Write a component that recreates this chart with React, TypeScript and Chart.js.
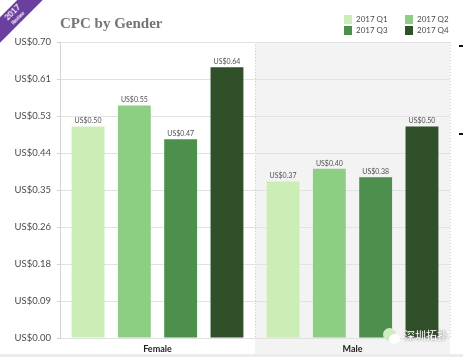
import React, { useEffect, useRef } from "react";
import { Chart, registerables } from "chart.js";

Chart.register(...registerables);

const categories = ["Female", "Male"];
const seriesNames = ["2017 Q1", "2017 Q2", "2017 Q3", "2017 Q4"];
const q1 = [0.5, 0.37];
const q2 = [0.55, 0.4];
const q3 = [0.47, 0.38];
const q4 = [0.64, 0.5];
const colors = ["#cbeeb6", "#8ccf82", "#4d8f4c", "#2f5029"];
const yTickLabels = ["US$0.00", "US$0.09", "US$0.18", "US$0.26", "US$0.35", "US$0.44", "US$0.53", "US$0.61", "US$0.70"];

const FONT = "Lato, sans-serif";

const bandPlugin = {
  id: "band",
  beforeDraw(chart: any) {
    const { ctx, chartArea, scales } = chart;
    const x = scales.x;
    const boundary = (x.getPixelForValue(0) + x.getPixelForValue(1)) / 2;
    ctx.save();
    ctx.fillStyle = "#f3f3f3";
    ctx.fillRect(boundary, chartArea.top, chartArea.right - boundary, 354 - chartArea.top);
    ctx.restore();
  },
};

const valueLabelPlugin = {
  id: "valueLabels",
  afterDatasetsDraw(chart: any) {
    const { ctx } = chart;
    ctx.save();
    ctx.font = `7px ${FONT}`;
    ctx.fillStyle = "#505050";
    ctx.textAlign = "center";
    ctx.textBaseline = "bottom";
    chart.data.datasets.forEach((ds: any, i: number) => {
      chart.getDatasetMeta(i).data.forEach((bar: any, j: number) => {
        ctx.fillText("US$" + ds.data[j].toFixed(2), bar.x, bar.y - 2);
      });
    });
    ctx.restore();
  },
};

export default function App() {
  const ref = useRef<HTMLCanvasElement | null>(null);
  useEffect(() => {
    document.body.style.margin = "0";
    const seriesValues = [q1, q2, q3, q4];
    const chart = new Chart(ref.current!, {
      type: "bar",
      data: {
        labels: categories,
        datasets: seriesNames.map((name, i) => ({
          label: name,
          data: seriesValues[i],
          backgroundColor: colors[i],
          categoryPercentage: 0.95,
          barPercentage: 0.71,
        })),
      },
      options: {
        animation: false,
        responsive: false,
        layout: { padding: { top: 42, right: 13, bottom: 0, left: 0 } },
        plugins: {
          title: { display: false },
          tooltip: { enabled: false },
          legend: { display: false },
        },
        scales: {
          x: {
            afterFit(scale: any) {
              scale.height = 19;
            },
            grid: { display: true, color: "#cfcfcf", drawTicks: false, offset: true },
            border: { display: false, dash: [1, 2] },
            ticks: { color: "#222222", padding: 6, font: { family: FONT, size: 9, weight: "bold" } },
          },
          y: {
            min: 0,
            max: 0.7,
            afterFit(scale: any) {
              scale.width = 60;
            },
            afterBuildTicks(scale: any) {
              scale.ticks = yTickLabels.map((_, i) => ({ value: (0.7 * i) / (yTickLabels.length - 1) }));
            },
            afterTickToLabelConversion(scale: any) {
              scale.ticks.forEach((t: any, i: number) => {
                t.label = yTickLabels[i];
              });
            },
            grid: { color: "#e2e2e2", tickLength: 3, tickColor: "#d0d0d0" },
            border: { display: true, color: "#d4d4d4" },
            ticks: { color: "#4a4a4a", padding: 6, font: { family: FONT, size: 9.5 } },
          },
        },
      },
      plugins: [bandPlugin, valueLabelPlugin],
    } as any);
    return () => chart.destroy();
  }, []);

  return (
    <div style={{ position: "relative", width: 463, height: 357, overflow: "hidden", background: "#fff" }}>
      <canvas ref={ref} width={463} height={357} style={{ position: "absolute", left: 0, top: 0 }} />
      <div
        style={{
          position: "absolute",
          left: 60,
          top: 12,
          fontFamily: "'Liberation Serif', serif",
          fontWeight: "bold",
          fontSize: 15,
          color: "#757575",
          lineHeight: "22px",
        }}
      >
        CPC by Gender
      </div>
      <div
        style={{
          position: "absolute",
          left: 344,
          top: 15,
          display: "grid",
          gridTemplateColumns: "61px 61px",
          rowGap: 3,
          fontFamily: FONT,
          fontSize: 8,
          color: "#4a4a4a",
        }}
      >
        {seriesNames.map((name, i) => (
          <div key={name} style={{ display: "flex", alignItems: "center", height: 8, lineHeight: "8px" }}>
            <span style={{ width: 8, height: 9, background: colors[i], marginRight: 4, display: "inline-block" }} />
            {name}
          </div>
        ))}
      </div>
      <div
        style={{
          position: "absolute",
          left: -30,
          top: 6,
          width: 90,
          height: 18,
          transform: "rotate(-45deg)",
          background: "#6b3fa0",
          color: "#fff",
          textAlign: "center",
          fontFamily: FONT,
          fontWeight: "bold",
          lineHeight: "9px",
          fontSize: 8,
          paddingTop: 1,
          boxSizing: "border-box",
        }}
      >
        2017
        <div style={{ fontSize: 5, lineHeight: "6px" }}>Review</div>
      </div>
      <div style={{ position: "absolute", left: 459, top: 45, width: 4, height: 2, background: "#111" }} />
      <div style={{ position: "absolute", left: 459, top: 133, width: 4, height: 2, background: "#111" }} />
      <div style={{ position: "absolute", left: 0, top: 354, width: 463, height: 3, background: "#ececec" }} />
      <div
        style={{
          position: "absolute",
          left: 404,
          top: 327,
          color: "#fff",
          fontFamily: "'Noto Sans CJK SC', sans-serif",
          fontSize: 11,
          lineHeight: "16px",
          textShadow: "0 0 2px #555",
        }}
      >
        深圳拓扑
      </div>
      <div
        style={{
          position: "absolute",
          left: 383,
          top: 328,
          width: 13,
          height: 13,
          borderRadius: "50%",
          background: "#cfeec0",
        }}
      />
      <div
        style={{
          position: "absolute",
          left: 389,
          top: 334,
          width: 11,
          height: 10,
          borderRadius: "50%",
          background: "#fff",
        }}
      />
    </div>
  );
}
